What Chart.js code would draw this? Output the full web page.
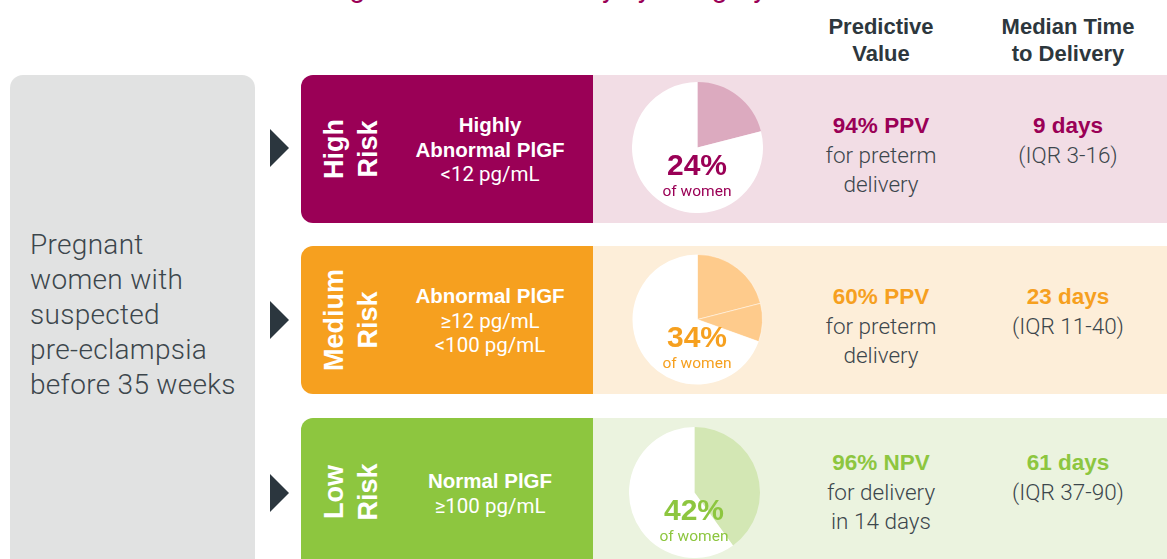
<!DOCTYPE html>
<html>
<head>
<meta charset="utf-8">
<script src="https://cdn.jsdelivr.net/npm/chart.js@4"></script>
<style>
  html, body { margin: 0; padding: 0; background: #fff; }
  body { width: 1167px; height: 559px; position: relative; overflow: hidden;
         font-family: "Liberation Sans", Arial, sans-serif; }
  .abs { position: absolute; }
  .ctr { position: absolute; transform: translateX(-50%); text-align: center; white-space: nowrap; }
  .light { font-family: Roboto, "Liberation Sans", sans-serif; font-weight: 300; }
  .bold { font-weight: bold; }
</style>
</head>
<body>
<div id="page"></div>
<script>
// Infographic data: one entry per risk row (top to bottom)
const riskLevels = ["High", "Medium", "Low"];
const plgfTitles = [["Highly", "Abnormal PlGF"], ["Abnormal PlGF"], ["Normal PlGF"]];
const plgfRanges = [["<12 pg/mL"], ["≥12 pg/mL", "<100 pg/mL"], ["≥100 pg/mL"]];
const womenLabels = ["24%", "34%", "42%"];
// pie slices as drawn (shaded part(s) first, white remainder last)
const pieSlices = [[21, 79], [21, 9.5, 69.5], [40, 60]];
const predictiveValues = ["94% PPV", "60% PPV", "96% NPV"];
const predictiveNotes = [["for preterm", "delivery"], ["for preterm", "delivery"], ["for delivery", "in 14 days"]];
const medianDays = ["9 days", "23 days", "61 days"];
const iqrRanges = ["(IQR 3-16)", "(IQR 11-40)", "(IQR 37-90)"];
const headers = [["Predictive", "Value"], ["Median Time", "to Delivery"]];
const populationText = ["Pregnant", "women with", "suspected", "pre-eclampsia", "before 35 weeks"];

// colours per row
const darkColors = ["#9a0056", "#f6a01f", "#8dc63f"];
const bandColors = ["#f2dde5", "#fdeed9", "#ebf3df"];
const sliceColors = ["#dcaabf", "#fecb8c", "#d3e7b4"];

// layout
const rowTops = [75, 246, 418];
const rowHeight = 148;
const pieCenters = [[697, 147], [697, 319], [694, 492]];
const textShift = [0, 0, -6];
const greyText = "#3c464c";

const page = document.getElementById("page");
function el(cls, style, html) {
  const d = document.createElement("div");
  d.className = cls;
  Object.assign(d.style, style);
  if (html !== undefined) d.innerHTML = html;
  page.appendChild(d);
  return d;
}

// title, cut off at the top edge as in the original (only descenders show)
el("ctr light", { left: "490px", top: "-29px", fontSize: "28px", color: "#9a0056", fontWeight: 400 },
  "PlGF testing and time to delivery by category");

// column headers
headers.forEach((h, i) => {
  el("ctr bold", { left: [881, 1068][i] + "px", top: "13px", fontSize: "22px", lineHeight: "27px", color: "#2d373d" },
    h.join("<br>"));
});

// grey population box
el("abs", { left: "10px", top: "75px", width: "245px", height: "500px", background: "#e1e2e2", borderRadius: "13px" });
el("abs light", { left: "30px", top: "227px", fontSize: "28px", lineHeight: "35px", letterSpacing: "0.3px", color: greyText },
  populationText.join("<br>"));

riskLevels.forEach((risk, i) => {
  const top = rowTops[i];
  const h = i === 2 ? 160 : rowHeight;
  // arrow
  el("abs", { left: "270px", top: (pieCenters[i][1] + 1 - 19) + "px", width: 0, height: 0,
    borderTop: "19px solid transparent", borderBottom: "19px solid transparent", borderLeft: "19px solid #2b363e" });
  // light band
  el("abs", { left: "593px", top: top + "px", width: "580px", height: h + "px", background: bandColors[i] });
  // dark box
  el("abs", { left: "301px", top: top + "px", width: "292px", height: h + "px", background: darkColors[i],
    borderRadius: "12px 0 0 12px" });
  // rotated risk label
  el("abs bold", { left: "351px", top: (top + 74) + "px", fontSize: "27px", lineHeight: "34px",
    color: "#fff", whiteSpace: "nowrap", textAlign: "center",
    transform: "translate(-50%, -50%) rotate(-90deg)" }, risk + "<br>Risk");
  // PlGF description
  const lines = plgfTitles[i].map(t => '<span class="bold">' + t + "</span>")
    .concat(plgfRanges[i].map(t => '<span class="light" style="font-weight:400">' + t + "</span>"));
  el("ctr", { left: "490px", top: (top + 75) + "px", fontSize: "20.5px", lineHeight: "24.5px", color: "#fff",
    transform: "translate(-50%, -50%)" }, lines.join("<br>"));

  // pie chart
  const c = document.createElement("canvas");
  const size = 131;
  c.width = size; c.height = size;
  Object.assign(c.style, { position: "absolute", left: (pieCenters[i][0] - size / 2) + "px",
    top: (pieCenters[i][1] - size / 2) + "px", width: size + "px", height: size + "px" });
  page.appendChild(c);
  const n = pieSlices[i].length;
  new Chart(c.getContext("2d"), {
    type: "pie",
    data: {
      labels: pieSlices[i].map((_, k) => "slice " + k),
      datasets: [{
        data: pieSlices[i],
        backgroundColor: pieSlices[i].map((_, k) => k === n - 1 ? "#ffffff" : sliceColors[i]),
        borderColor: "rgba(255,255,255,0.45)",
        borderWidth: pieSlices[i].map((_, k) => (n > 2 && k < n - 1) ? 1 : 0),
        hoverOffset: 0
      }]
    },
    options: {
      responsive: false, animation: false, events: [],
      layout: { padding: 0 },
      plugins: { legend: { display: false }, tooltip: { enabled: false } }
    }
  });
  // % of women label
  el("ctr bold", { left: (pieCenters[i][0]) + "px", top: (pieCenters[i][1] + 1) + "px", fontSize: "30px",
    lineHeight: "34px", color: darkColors[i] }, womenLabels[i]);
  el("ctr light", { left: (pieCenters[i][0]) + "px", top: (pieCenters[i][1] + 35) + "px", fontSize: "15.5px",
    lineHeight: "18px", color: darkColors[i], fontWeight: 400 }, "of women");

  // predictive value column
  el("ctr", { left: "881px", top: (top + 37 + textShift[i]) + "px", fontSize: "22.5px", lineHeight: "28.5px", color: greyText },
    '<span class="bold" style="color:' + darkColors[i] + '">' + predictiveValues[i] + "</span><br>" +
    predictiveNotes[i].map(t => '<span class="light">' + t + "</span>").join("<br>"));
  // median time column
  el("ctr", { left: "1068px", top: (top + 37 + textShift[i]) + "px", fontSize: "22.5px", lineHeight: "28.5px", color: greyText },
    '<span class="bold" style="color:' + darkColors[i] + '">' + medianDays[i] + "</span><br>" +
    '<span class="light">' + iqrRanges[i] + "</span>");
});
</script>
</body>
</html>
